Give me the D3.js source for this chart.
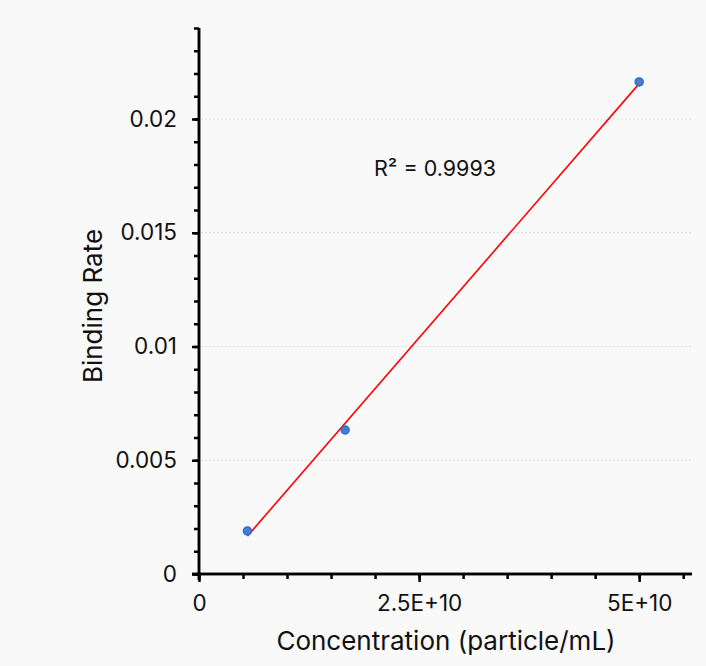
<!DOCTYPE html>
<html><head><meta charset="utf-8">
<script src="https://cdn.jsdelivr.net/npm/d3@7"></script>
<style>
html,body{margin:0;padding:0;background:#f9f9f9;}
svg{display:block;font-family:Inter, "Noto Sans", sans-serif;}
</style></head><body>
<svg id="c" width="706" height="666"></svg>
<script>
const concentration = [0.55e10, 1.66e10, 5.0e10];
const bindingRate = [0.00189, 0.00633, 0.02163];
const xTickValues = [0, 2.5e10, 5e10];
const xTickLabels = ["0", "2.5E+10", "5E+10"];
const yTickValues = [0, 0.005, 0.01, 0.015, 0.02];
const yTickLabels = ["0", "0.005", "0.01", "0.015", "0.02"];
const r2Label = "R\u00b2 = 0.9993";

const svg = d3.select("#c");
const x = d3.scaleLinear().domain([0, 5.6e10]).range([199, 692]);
const y = d3.scaleLinear().domain([0, 0.024]).range([574, 28]);
const black = "#000";
const txt = "#111";

// gridlines
svg.append("g").selectAll("line").data(yTickValues.filter(v=>v>0)).join("line")
  .attr("x1", 201).attr("x2", 692).attr("y1", d=>y(d)).attr("y2", d=>y(d))
  .attr("stroke", "#dedede").attr("stroke-width", 1).attr("stroke-dasharray", "2,2");

// y axis
const yMinor = d3.range(0, 0.0241, 0.001);
const yAx = svg.append("g").attr("transform","translate(199,0)");
yAx.call(d3.axisLeft(y).tickValues(yMinor).tickSize(5).tickFormat(""));
yAx.append("g").call(d3.axisLeft(y).tickValues(yTickValues).tickSize(7).tickPadding(15)
  .tickFormat((d,i)=>yTickLabels[i]));
yAx.selectAll("path.domain").attr("stroke", black).attr("stroke-width", 2.5);
yAx.selectAll(".tick line").attr("stroke", black).attr("stroke-width", 2.5);
yAx.selectAll("text").attr("font-size", 22.5).attr("fill", txt).attr("font-family","Inter, sans-serif");
yAx.selectAll("path.domain").attr("d", "M0,28V580");

// x axis
const xMinor = d3.range(0, 5.51e10, 0.5e10);
const xAx = svg.append("g").attr("transform","translate(0,574)");
xAx.call(d3.axisBottom(x).tickValues(xMinor).tickSize(5).tickFormat(""));
xAx.append("g").call(d3.axisBottom(x).tickValues(xTickValues).tickSize(8).tickPadding(13)
  .tickFormat((d,i)=>xTickLabels[i]));
xAx.selectAll("path.domain").attr("d", "M192,0H692").attr("stroke", black).attr("stroke-width", 2.5);
xAx.selectAll(".tick line").attr("stroke", black).attr("stroke-width", 2.5);
xAx.selectAll("text").attr("font-size", 22.5).attr("fill", txt).attr("font-family","Inter, sans-serif");

// regression line (least squares fit of the data)
const n = concentration.length;
const mx = d3.mean(concentration), my = d3.mean(bindingRate);
let sxy=0, sxx=0;
for (let i=0;i<n;i++){ sxy += (concentration[i]-mx)*(bindingRate[i]-my); sxx += (concentration[i]-mx)**2; }
const slope = sxy/sxx, icpt = my - slope*mx;
const x0 = d3.min(concentration), x1 = d3.max(concentration);
svg.append("line").attr("x1", x(x0)).attr("y1", y(icpt+slope*x0))
  .attr("x2", x(x1)).attr("y2", y(icpt+slope*x1)).attr("stroke", "#ff0000").attr("stroke-width", 1.6);

// points
svg.append("g").selectAll("circle").data(concentration).join("circle")
  .attr("cx", d=>x(d)).attr("cy", (d,i)=>y(bindingRate[i])).attr("r", 4)
  .attr("fill", "#4a7fc4").attr("stroke", "#1f6fe0").attr("stroke-width", 1.5);

// labels
svg.append("text").attr("x", 435).attr("y", 176).attr("text-anchor","middle")
  .attr("font-size", 21.5).attr("fill",txt).text(r2Label);
svg.append("text").attr("x", 446).attr("y", 650).attr("text-anchor","middle")
  .attr("font-size", 26).attr("fill",txt).text("Concentration (particle/mL)");
svg.append("text").attr("transform","translate(102,306) rotate(-90)").attr("text-anchor","middle")
  .attr("font-size", 26).attr("fill",txt).text("Binding Rate");
</script></body></html>
